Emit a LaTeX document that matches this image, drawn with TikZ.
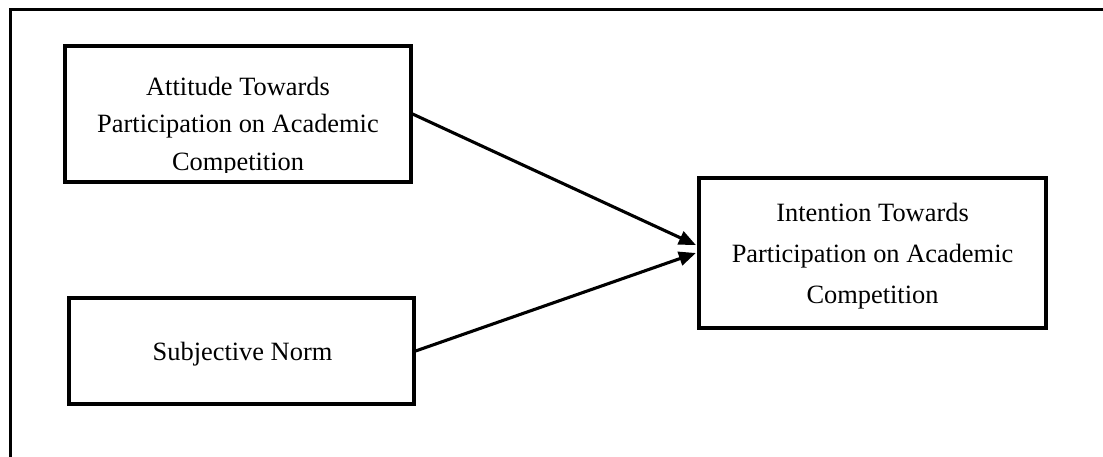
\documentclass[tikz,border=0pt]{standalone}
\usepackage{fontspec}
\setmainfont{Liberation Serif}
\usetikzlibrary{arrows.meta}
\begin{document}
\begin{tikzpicture}[x=1pt,y=-1pt,
  box/.style={draw,line width=3.2pt,minimum width=#1,inner sep=0pt},
  txt/.style={anchor=base,inner sep=0pt,font=\fontsize{26.4}{38}\selectfont},
  link/.style={line width=3.1pt,-{Triangle[length=17pt,width=14pt]}},
  frame/.style={line width=3pt}]
\useasboundingbox (0,0) rectangle (1103,457);
% outer frame (open)
\coordinate (fb) at (10,460);
\coordinate (fc) at (10,10);
\coordinate (fr) at (1106,10);
\draw[frame] (fb) -- (fc) -- (fr);
% boxes
\node[box=346pt,minimum height=136pt] (b1) at (238,114) {};
\node[box=345pt,minimum height=106pt] (b2) at (241.5,351) {};
\node[box=347pt,minimum height=150pt] (b3) at (872.5,253) {};
% texts
\node[txt] (t11) at (238,95.5) {Attitude Towards};
\node[txt] (t12) at (238,133) {Participation on Academic};
\begin{scope}
\clip (60,46) rectangle (420,172.5);
\node[txt] (t13) at (238,170.5) {Competition};
\end{scope}
\node[txt] (t21) at (242.5,360) {Subjective Norm};
\node[txt] (t31) at (872.5,222) {Intention Towards};
\node[txt] (t32) at (872.5,262.5) {Participation on Academic};
\node[txt] (t33) at (872.5,303) {Competition};
% connectors
\draw[link] (b1.east) -- ([yshift=8pt,xshift=-1.5pt]b3.west);
\draw[link] (b2.east) -- ([xshift=-1.5pt]b3.west);
\end{tikzpicture}
\end{document}
